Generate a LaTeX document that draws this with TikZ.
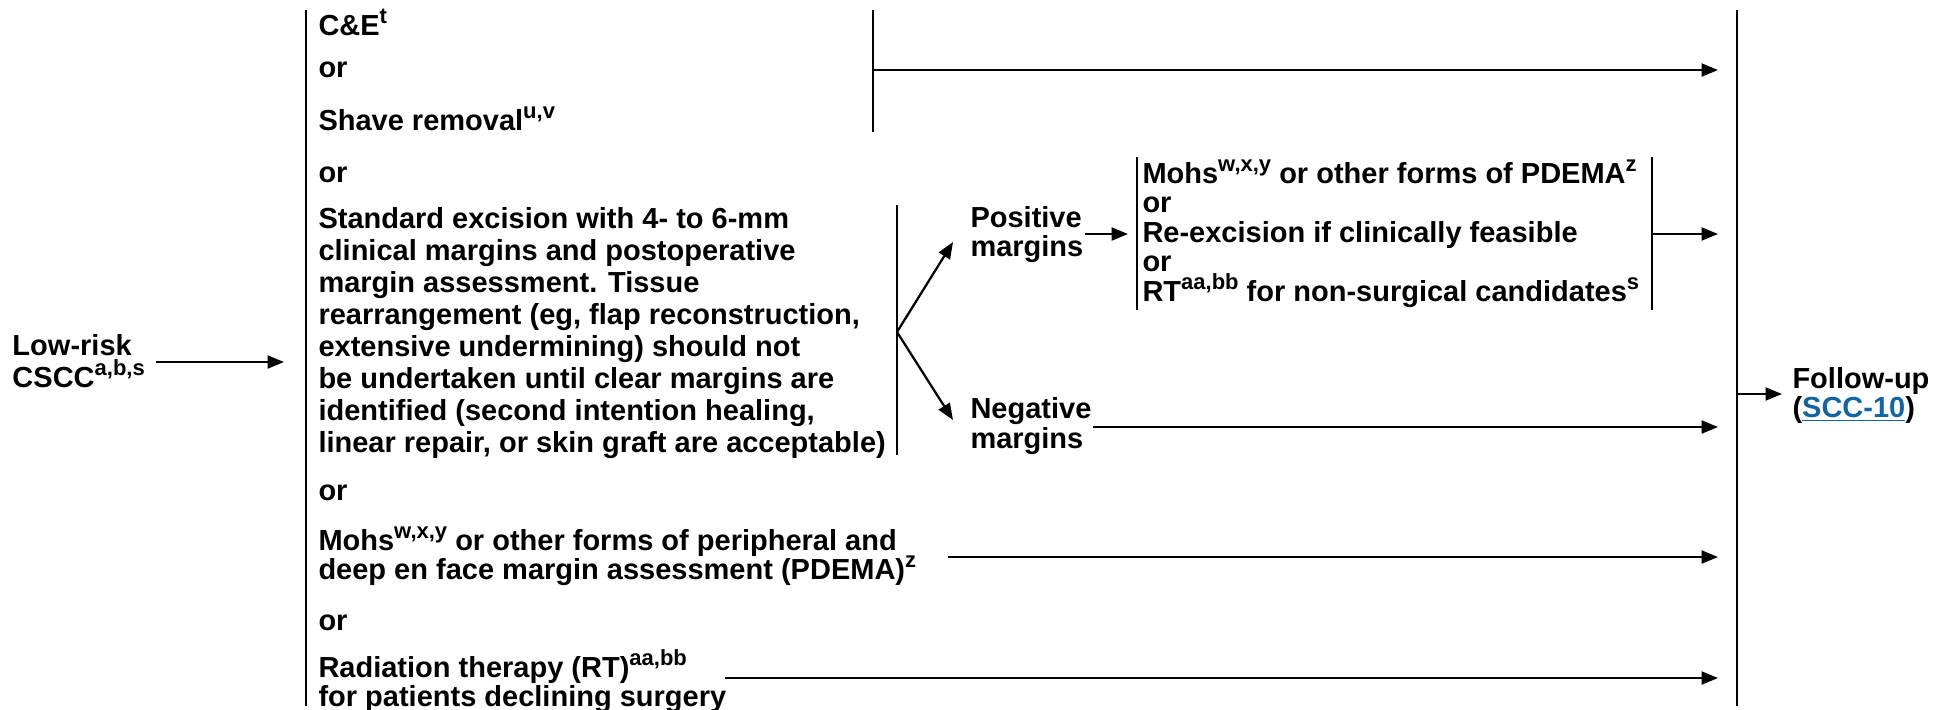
\documentclass[tikz,border=0pt]{standalone}
\usepackage{fontspec}
\setmainfont{Liberation Sans}
\usetikzlibrary{arrows.meta}
\definecolor{linkblue}{RGB}{18,100,165}
\newcommand{\fn}[1]{\raisebox{0.38em}{\fontsize{8.8}{8.8}\selectfont #1}}

\begin{document}
\begin{tikzpicture}[x=0.4pt, y=-0.4pt,
    txt/.style={inner sep=0pt, anchor=base west, align=left,
      font=\fontsize{11.6}{12.4}\selectfont\bfseries},
    skip/.style={font=\fontsize{11.6}{#1}\selectfont\bfseries},
    arr/.style={-{Triangle[length=6.6pt,width=5.2pt]}, line width=0.9pt},
    bar/.style={line width=0.9pt}]
  \useasboundingbox (0,0) rectangle (1934,709);

  % input (nodes sit on the baseline of their last line)
  \node[txt, skip=12.8pt] (low) at (12,387) {Low-risk\\CSCC\fn{a,b,s}};

  % options
  \node[txt] (ce)    at (318,35)  {C\&E\fn{t}};
  \node[txt] (or1)   at (318,77)  {or};
  \node[txt] (shave) at (318,130) {Shave removal\fn{u,v}};
  \node[txt] (or2)   at (318,182) {or};
  \node[txt, skip=12.8pt] (std) at (318,452)
    {Standard excision with 4- to 6-mm\\
     clinical margins and postoperative\\
     margin assessment. Tissue\\
     rearrangement (eg, flap reconstruction,\\
     extensive undermining) should not\\
     be undertaken until clear margins are\\
     identified (second intention healing,\\
     linear repair, or skin graft are acceptable)};
  \node[txt] (or3)   at (318,500) {or};
  \node[txt, skip=11.6pt] (mohs) at (318,579)
    {Mohs\fn{w,x,y} or other forms of peripheral and\\
     deep en face margin assessment (PDEMA)\fn{z}};
  \node[txt] (or4)   at (318,630) {or};
  \node[txt, skip=11.6pt] (rt) at (318,706)
    {Radiation therapy (RT)\fn{aa,bb}\\for patients declining surgery};

  % margins
  \node[txt, skip=11.4pt] (pos) at (970,256) {Positive\\margins};
  \node[txt, skip=12pt] (neg) at (970,448) {Negative\\margins};
  \node[txt, skip=11.8pt] (pdema) at (1142,301)
    {Mohs\fn{w,x,y} or other forms of PDEMA\fn{z}\\
     or\\
     Re-excision if clinically feasible\\
     or\\
     RT\fn{aa,bb} for non-surgical candidates\fn{s}};

  % output
  \node[txt, skip=11.6pt] (follow) at (1792,417)
    {Follow-up\\(\textcolor{linkblue}{\underline{SCC-10}})};

  % brackets
  \draw[bar] (306,10) -- (306,706);
  \draw[bar] (873,10) -- (873,132);
  \draw[bar] (897,205) -- (897,455);
  \draw[bar] (1137,157) -- (1137,310);
  \draw[bar] (1652,157) -- (1652,310);
  \draw[bar] (1737,10) -- (1737,706);

  \coordinate (fork) at (897,332);
  \coordinate (postip) at (953,242);
  \coordinate (negtip) at (953,420);

  % arrows
  \draw[arr] (156,362) -- (284,362);
  \draw[arr] (873,70) -- (1718,70);
  \draw[arr] (fork) -- (postip);
  \draw[arr] (fork) -- (negtip);
  \draw[arr] (1085,234) -- (1128,234);
  \draw[arr] (1652,234) -- (1718,234);
  \draw[arr] (1093,427) -- (1718,427);
  \draw[arr] (948,557) -- (1718,557);
  \draw[arr] (725,678) -- (1718,678);
  \draw[arr] (1737,394) -- (1782,394);
\end{tikzpicture}
\end{document}
